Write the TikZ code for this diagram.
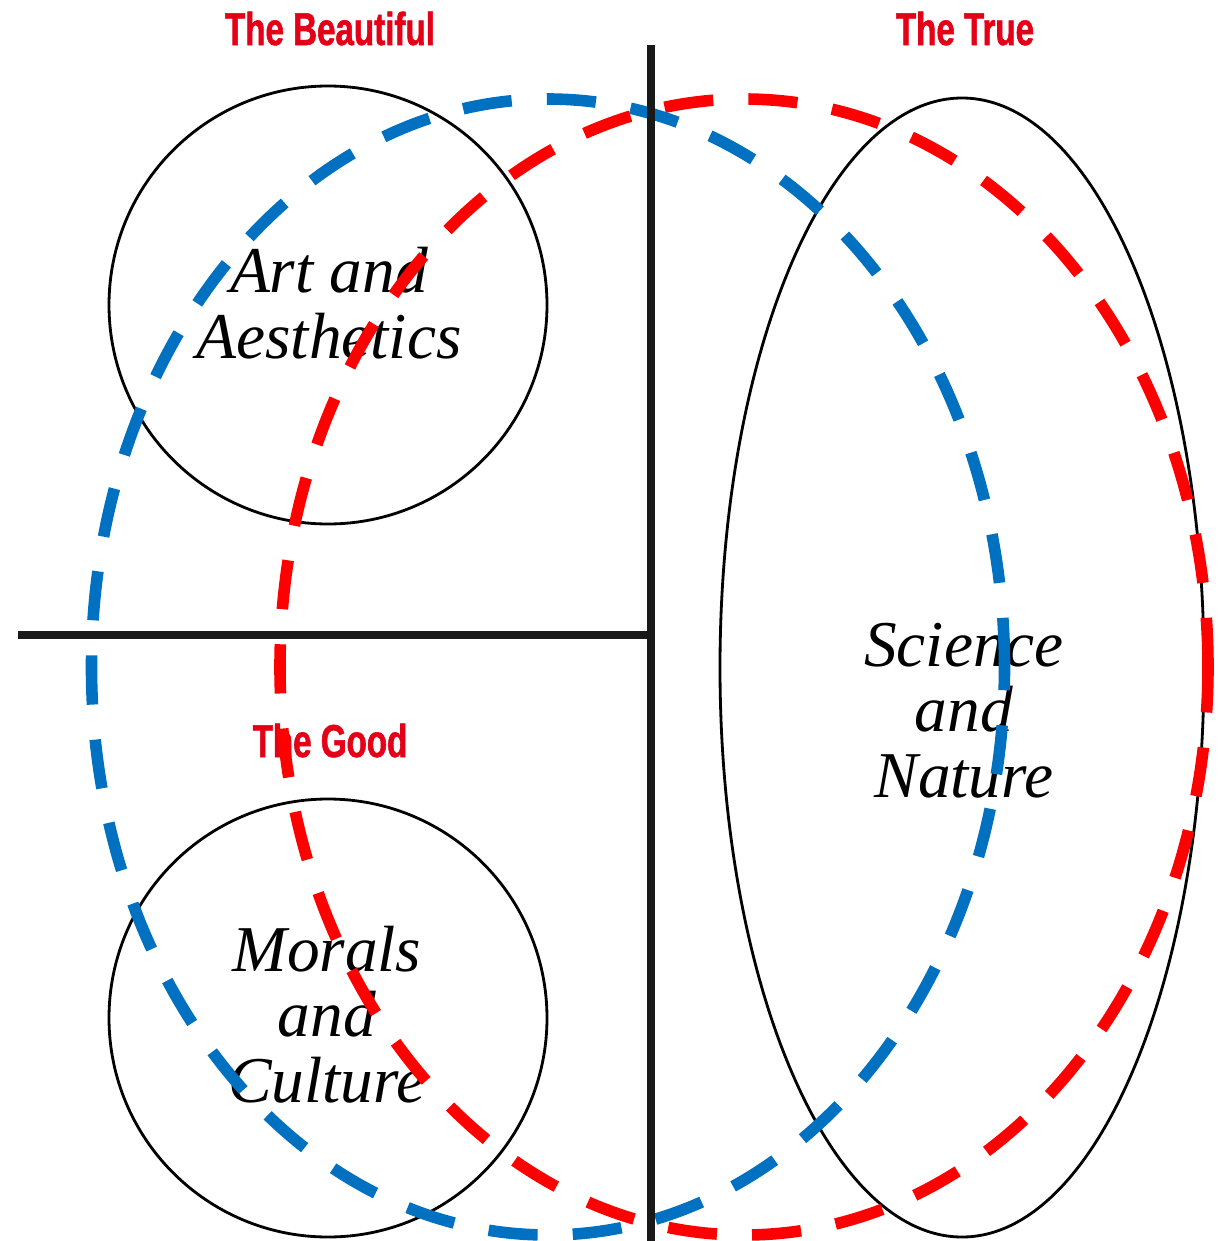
\documentclass[tikz,border=0pt]{standalone}
\usepackage{fontspec}
\setmainfont{Liberation Serif}
\newfontfamily\headfont[FakeStretch=0.72,FakeBold=1.2]{Liberation Sans}
\definecolor{headred}{RGB}{228,0,22}
\definecolor{realmblue}{RGB}{0,112,192}
\definecolor{realmred}{RGB}{255,0,0}

\begin{document}
\begin{tikzpicture}[
  frame/.style={line width=2pt, black!90},
  outline/.style={line width=0.8pt},
  heading/.style={text=headred, font=\headfont\bfseries\fontsize{13.1}{15}\selectfont,
    inner sep=0pt, anchor=base},
  topic/.style={font=\itshape\fontsize{18.6}{18.5}\selectfont, align=center,
    inner sep=0pt, anchor=base},
  realm/.style={line width=3.3pt, dash pattern=on 14pt off 10pt}]
\useasboundingbox (0,0) rectangle (12.18,-12.41);
\coordinate (top) at (6.51,-0.45);
\coordinate (bottom) at (6.51,-12.41);
\coordinate (left) at (0.18,-6.35);
\coordinate (mid) at (6.51,-6.35);
\draw[frame] (left) -- (mid);
\draw[outline] (3.28,-3.05) circle (2.19);
\draw[outline] (3.28,-10.18) circle (2.19);
\draw[outline] (9.62,-6.675) ellipse (2.42 and 5.695);
\node[heading] (beautiful) at (3.30,-0.45) {The Beautiful};
\node[heading] (true) at (9.65,-0.45) {The True};
\node[heading] (good) at (3.30,-7.57) {The Good};
\node[topic] (art) at (3.29,-3.58) {Art and\\Aesthetics};
\node[topic] (morals) at (3.27,-11.02) {Morals\\and\\Culture};
\node[topic] (science) at (9.64,-7.97) {Science\\and\\Nature};
\draw[realm, realmred] (7.44,-6.67) ellipse (4.64 and 5.68);
\draw[realm, realmblue] (5.48,-6.67) ellipse (4.565 and 5.68);
\draw[frame] (top) -- (bottom);
\end{tikzpicture}
\end{document}
